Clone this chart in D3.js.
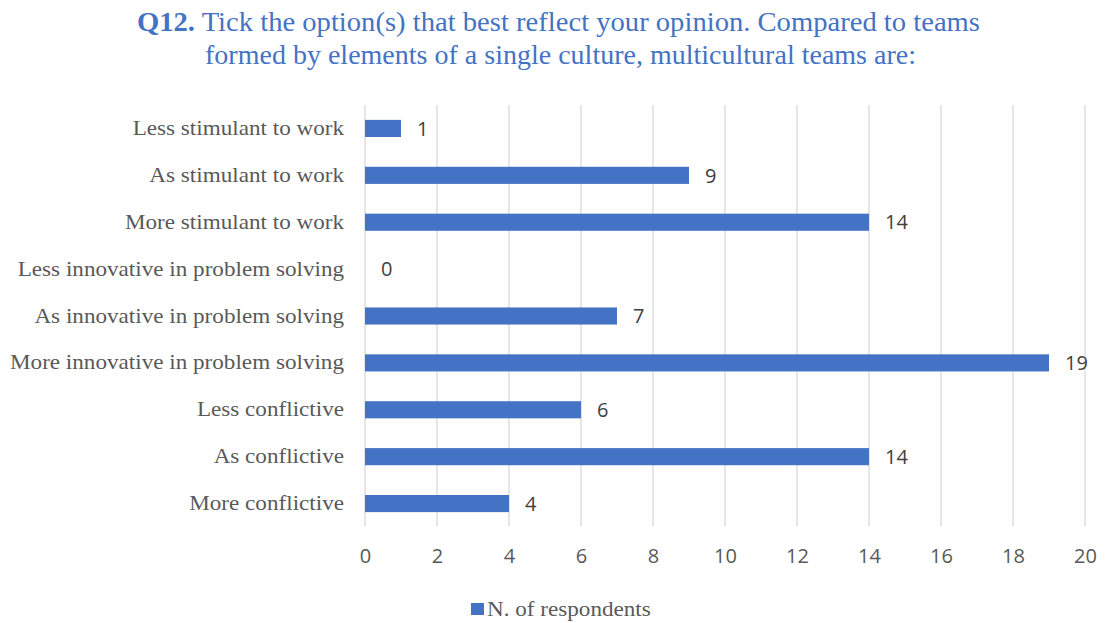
<!DOCTYPE html>
<html>
<head>
<meta charset="utf-8">
<script src="https://cdn.jsdelivr.net/npm/d3@7"></script>
<style>
  html, body { margin: 0; padding: 0; background: #fff; }
  svg { display: block; }
</style>
</head>
<body>
<svg id="chart" width="1105" height="623"></svg>
<script>
const categories = [
  "Less stimulant to work",
  "As stimulant to work",
  "More stimulant to work",
  "Less innovative in problem solving",
  "As innovative in problem solving",
  "More innovative in problem solving",
  "Less conflictive",
  "As conflictive",
  "More conflictive"
];
const respondents = [1, 9, 14, 0, 7, 19, 6, 14, 4];
const xTicks = [0, 2, 4, 6, 8, 10, 12, 14, 16, 18, 20];
const seriesName = "N. of respondents";
const titleLead = "Q12.";
const titleLine1 = " Tick the option(s) that best reflect your opinion. Compared to teams";
const titleLine2 = "formed by elements of a single culture, multicultural teams are:";

const serif = "'Liberation Serif', 'DejaVu Serif', serif";
const sans = "'Open Sans', 'Noto Sans', sans-serif";
const barColor = "#4472C4";

const svg = d3.select("#chart");

const x = d3.scaleLinear().domain([0, 20]).range([365, 1085]);
const y = d3.scaleBand().domain(categories).range([105, 527]).paddingInner(0.635).paddingOuter(0.3175);

// Title, two centred lines in the theme blue
const title = svg.append("g")
  .attr("font-family", serif)
  .attr("font-size", 27)
  .attr("fill", barColor);
const line1 = title.append("text")
  .attr("x", 137).attr("y", 31)
  .attr("textLength", 843).attr("lengthAdjust", "spacingAndGlyphs");
line1.append("tspan").attr("font-weight", "bold").text(titleLead);
line1.append("tspan").text(titleLine1);
title.append("text")
  .attr("x", 205).attr("y", 64)
  .attr("textLength", 711).attr("lengthAdjust", "spacingAndGlyphs")
  .text(titleLine2);

// Vertical gridlines
svg.append("g")
  .selectAll("line")
  .data(xTicks)
  .join("line")
  .attr("x1", d => x(d)).attr("x2", d => x(d))
  .attr("y1", 105).attr("y2", 526)
  .attr("stroke", "#d9d9d9")
  .attr("stroke-width", 1.3);

// Bars
svg.append("g")
  .selectAll("rect")
  .data(categories)
  .join("rect")
  .attr("x", x(0))
  .attr("y", d => y(d))
  .attr("width", (d, i) => x(respondents[i]) - x(0))
  .attr("height", y.bandwidth())
  .attr("fill", barColor);

// Value labels at the end of each bar
svg.append("g")
  .selectAll("text")
  .data(categories)
  .join("text")
  .attr("x", (d, i) => x(respondents[i]) + 16)
  .attr("y", d => y(d) + y.bandwidth() / 2)
  .attr("dy", "0.36em")
  .attr("font-family", sans)
  .attr("font-size", 20)
  .attr("fill", "#404040")
  .text((d, i) => respondents[i]);

// Category axis labels
const yAxis = d3.axisLeft(y).tickSize(0).tickPadding(21);
const gy = svg.append("g").attr("transform", `translate(${x(0)},0)`).call(yAxis);
gy.select(".domain").remove();
const catLabels = gy.selectAll("text")
  .attr("font-family", serif)
  .attr("font-size", 22)
  .attr("fill", "#595959")
  .attr("dy", "0.3em");
// widen the serif labels slightly to the face's wider proportions
const widest = d3.max(catLabels.nodes(), n => n.getComputedTextLength());
const stretch = 334 / widest;
catLabels.each(function () {
  d3.select(this)
    .attr("textLength", this.getComputedTextLength() * stretch)
    .attr("lengthAdjust", "spacingAndGlyphs");
});

// Value axis
const xAxis = d3.axisBottom(x).tickValues(xTicks).tickSize(0).tickPadding(11);
const gx = svg.append("g").attr("transform", "translate(0,538)").call(xAxis);
gx.select(".domain").remove();
gx.selectAll("text")
  .attr("font-family", sans)
  .attr("font-size", 20)
  .attr("fill", "#595959");

// Legend
const legend = svg.append("g").attr("transform", "translate(471,603)");
legend.append("rect").attr("width", 13).attr("height", 12).attr("fill", barColor);
const legendText = legend.append("text")
  .attr("x", 16).attr("y", 5).attr("dy", "0.35em")
  .attr("font-family", serif)
  .attr("font-size", 22)
  .attr("fill", "#595959")
  .text(seriesName);
legendText
  .attr("textLength", legendText.node().getComputedTextLength() * stretch)
  .attr("lengthAdjust", "spacingAndGlyphs");
</script>
</body>
</html>
